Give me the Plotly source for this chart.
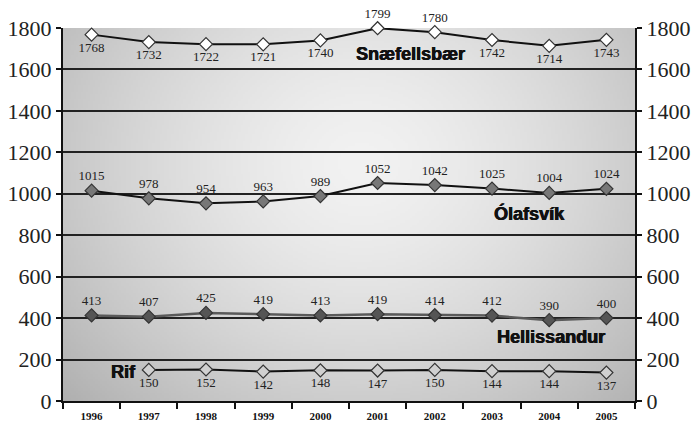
import base64, struct, zlib
import numpy as np
import plotly.graph_objects as go

years = ["1996", "1997", "1998", "1999", "2000", "2001", "2002", "2003", "2004", "2005"]
snaefellsbaer = [1768, 1732, 1722, 1721, 1740, 1799, 1780, 1742, 1714, 1743]
olafsvik = [1015, 978, 954, 963, 989, 1052, 1042, 1025, 1004, 1024]
hellissandur = [413, 407, 425, 419, 413, 419, 414, 412, 390, 400]
rif = [None, 150, 152, 142, 148, 147, 150, 144, 144, 137]
y_ticks = [0, 200, 400, 600, 800, 1000, 1200, 1400, 1600, 1800]


def gradient_png(w=240, h=160):
    yy, xx = np.mgrid[0:h, 0:w]
    cx, cy = 0.52 * w, 0.36 * h
    d = np.sqrt(((xx - cx) / (0.6 * w)) ** 2 + ((yy - cy) / (0.8 * h)) ** 2)
    v = np.clip(242 - 52 * d ** 1.5, 172, 245).astype(np.uint8)
    raw = b"".join(b"\x00" + bytes(np.repeat(row, 3)) for row in v)

    def chunk(t, data):
        c = struct.pack(">I", len(data)) + t + data
        return c + struct.pack(">I", zlib.crc32(t + data) & 0xFFFFFFFF)

    png = b"\x89PNG\r\n\x1a\n" + chunk(b"IHDR", struct.pack(">IIBBBBB", w, h, 8, 2, 0, 0, 0))
    png += chunk(b"IDAT", zlib.compress(raw, 9)) + chunk(b"IEND", b"")
    return "data:image/png;base64," + base64.b64encode(png).decode()


SERIF = "Liberation Serif"
label_font = dict(family=SERIF, size=13, color="#222")


def text_list(vals):
    return [("" if v is None else str(v)) for v in vals]


fig = go.Figure()

snae_pos = ["bottom center"] * 10
snae_pos[5] = "top center"
snae_pos[6] = "top center"

mk = 10
fig.add_trace(go.Scatter(x=years, y=snaefellsbaer, mode="lines+markers+text",
                         text=text_list(snaefellsbaer), textposition=snae_pos, textfont=label_font,
                         line=dict(color="#111", width=2),
                         marker=dict(symbol="diamond", size=mk, color="white", line=dict(color="#333", width=1.2)),
                         cliponaxis=False))
fig.add_trace(go.Scatter(x=years, y=olafsvik, mode="lines+markers+text",
                         text=text_list(olafsvik), textposition="top center", textfont=label_font,
                         line=dict(color="#111", width=2),
                         marker=dict(symbol="diamond", size=mk, color="#777", line=dict(color="#333", width=1.2)),
                         cliponaxis=False))
fig.add_trace(go.Scatter(x=years, y=hellissandur, mode="lines+markers+text",
                         text=text_list(hellissandur), textposition="top center", textfont=label_font,
                         line=dict(color="#5a5a5a", width=2.5),
                         marker=dict(symbol="diamond", size=mk, color="#555", line=dict(color="#333", width=1.2)),
                         cliponaxis=False))
fig.add_trace(go.Scatter(x=years, y=rif, mode="lines+markers+text",
                         text=text_list(rif), textposition="bottom center", textfont=label_font,
                         line=dict(color="#111", width=2),
                         marker=dict(symbol="diamond", size=mk, color="#d0d0d0", line=dict(color="#333", width=1.2)),
                         cliponaxis=False, connectgaps=False))
# invisible trace for right axis
fig.add_trace(go.Scatter(x=years, y=snaefellsbaer, yaxis="y2", mode="lines",
                         line=dict(width=0), opacity=0, hoverinfo="skip", showlegend=False))

name_font = dict(family="Liberation Sans", size=18, color="#111", weight="bold",
                 shadow="0.6px 0 0 #111, -0.3px 0 0 #111")
names = [("Snæfellsbær", 5.58, 1674), ("Ólafsvík", 7.66, 907), ("Hellissandur", 8.03, 309), ("Rif", 0.55, 140)]
for name, xi, yv in names:
    fig.add_annotation(x=xi, y=yv, xref="x", yref="y", text=name, showarrow=False,
                       font=name_font, xanchor="center", yanchor="middle")

axis_font = dict(family=SERIF, size=22, color="#222")
fig.update_layout(
    width=691, height=427,
    margin=dict(l=63, r=56, t=28, b=26),
    paper_bgcolor="white", plot_bgcolor="#d0d0d0",
    showlegend=False,
    images=[dict(source=gradient_png(), xref="paper", yref="paper", x=0, y=1, sizex=1, sizey=1,
                 sizing="stretch", layer="below", xanchor="left", yanchor="top")],
    xaxis=dict(type="category", range=[-0.5, 9.5], tickson="boundaries", ticks="outside",
               ticklen=6, tickwidth=2, tickcolor="#111", showline=True, linecolor="#111", linewidth=2,
               showgrid=False, ticklabelstandoff=4, automargin=False,
               tickfont=dict(family=SERIF, size=11, color="#111", weight="bold")),
    yaxis=dict(range=[0, 1800], tickvals=y_ticks, ticks="outside", ticklen=5, tickwidth=2,
               tickcolor="#111", showline=True, linecolor="#111", linewidth=2, mirror=False,
               showgrid=True, gridcolor="#222", gridwidth=2, zeroline=False, tickfont=axis_font,
               automargin=False),
    yaxis2=dict(range=[0, 1800], tickvals=y_ticks, overlaying="y", side="right", ticks="outside",
                ticklen=5, tickwidth=2, tickcolor="#111", showline=True, linecolor="#111", linewidth=2,
                showgrid=False, zeroline=False, tickfont=axis_font, automargin=False),
)

fig.write_html("out.html", config={"displayModeBar": False},
               post_script="document.body.style.margin='0';document.body.style.padding='0';")
